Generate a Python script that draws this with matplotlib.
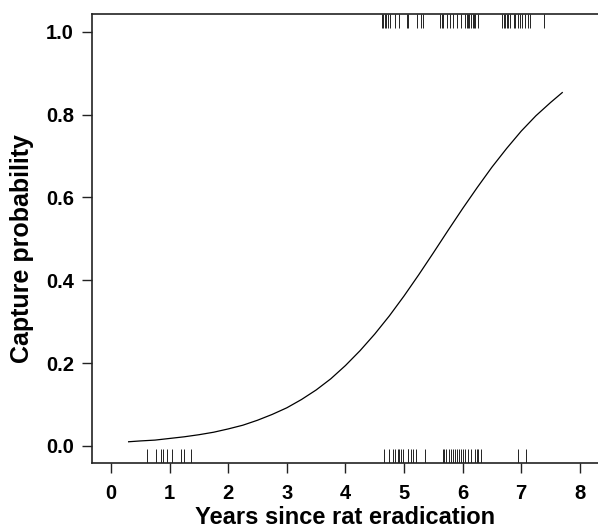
import matplotlib
matplotlib.use("Agg")
import matplotlib.pyplot as plt
import matplotlib.transforms as mtransforms

# Fitted curve
curve_x = [0.30, 0.50, 0.75, 1.00, 1.25, 1.50, 1.75, 2.00, 2.25, 2.50, 2.75, 3.00,
           3.25, 3.50, 3.75, 4.00, 4.25, 4.50, 4.75, 5.00, 5.25, 5.50, 5.75, 6.00,
           6.25, 6.50, 6.75, 7.00, 7.25, 7.50, 7.70]
curve_p = [0.010, 0.012, 0.014, 0.018, 0.022, 0.027, 0.033, 0.041, 0.050, 0.062, 0.076, 0.092,
           0.112, 0.135, 0.162, 0.194, 0.230, 0.270, 0.314, 0.362, 0.413, 0.466, 0.520, 0.573,
           0.624, 0.673, 0.718, 0.760, 0.797, 0.829, 0.853]

# Rug: years of non-captures (bottom) and captures (top)
rug_zero = [0.61, 0.76, 0.85, 0.89, 0.95, 1.04, 1.20, 1.25, 1.36,
            4.66, 4.74, 4.82, 4.84, 4.89, 4.92, 4.95, 4.98, 5.06, 5.07, 5.12, 5.16, 5.21, 5.36,
            5.67, 5.69, 5.72, 5.77, 5.80, 5.84, 5.87, 5.90, 5.93, 5.97, 6.01, 6.04, 6.10,
            6.14, 6.21, 6.24, 6.27, 6.31, 6.95, 7.08]
rug_one = [4.62, 4.64, 4.68, 4.70, 4.73, 4.76, 4.85, 4.91, 5.05, 5.07, 5.22, 5.29, 5.33,
           5.61, 5.64, 5.67, 5.73, 5.79, 5.84, 5.90, 5.97, 6.04, 6.07, 6.10, 6.11, 6.15,
           6.17, 6.20, 6.21, 6.26, 6.67, 6.70, 6.72, 6.75, 6.78, 6.81, 6.87, 6.89, 6.94,
           6.98, 7.02, 7.06, 7.11, 7.15, 7.38]

x_ticks = [0, 1, 2, 3, 4, 5, 6, 7, 8]
y_ticks = [0.0, 0.2, 0.4, 0.6, 0.8, 1.0]
y_tick_labels = ["0.0", "0.2", "0.4", "0.6", "0.8", "1.0"]

plt.rcParams['font.family'] = ['Liberation Sans', 'DejaVu Sans']

W, H = 598, 529
fig = plt.figure(figsize=(W / 100, H / 100), dpi=100)
ax = fig.add_axes([91.7 / W, 65.7 / H, (W - 91.7) / W, (463.3 - 14.3) / H])

ax.plot(curve_x, curve_p, color='black', linewidth=0.9)

trans = mtransforms.blended_transform_factory(ax.transData, ax.transAxes)
rlen = 14.0 / 449.0
ax.vlines(rug_zero, 0, rlen, transform=trans, color='#222222', linewidth=0.7)
ax.vlines(rug_one, 1 - rlen, 1, transform=trans, color='#222222', linewidth=0.7)

ax.set_xlim(-0.33, 8.31)
ax.set_ylim(-0.042, 1.042)

ax.set_xticks(x_ticks)
ax.set_xticklabels([str(v) for v in x_ticks], fontsize=14.5, fontweight='bold')
ax.set_yticks(y_ticks)
ax.set_yticklabels(y_tick_labels, fontsize=14.5, fontweight='bold')
ax.tick_params(axis='both', direction='out', length=7.2, width=1.0, color='#222222')
ax.tick_params(axis='x', pad=8)
ax.tick_params(axis='y', pad=5.5)

for side in ['left', 'top', 'bottom']:
    ax.spines[side].set_linewidth(1.2)
    ax.spines[side].set_color('#222222')
ax.spines['right'].set_visible(False)

fig.text(345.5 / W, (H - 524) / H, "Years since rat eradication", fontsize=17,
         fontweight='bold', ha='center', va='baseline')
fig.text(22 / W, (H - 248.5) / H, "Capture probability", fontsize=18,
         fontweight='bold', ha='center', va='center', rotation=90)

fig.savefig("out.png", dpi=100)
